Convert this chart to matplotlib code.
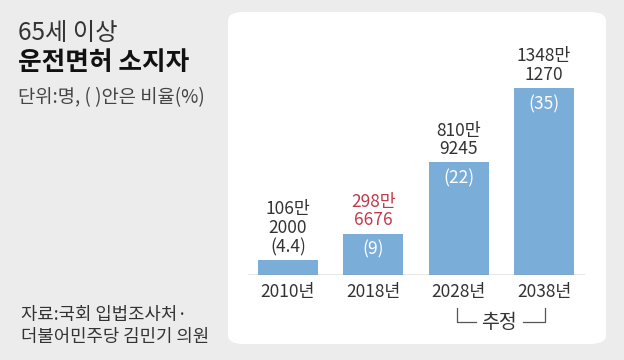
import matplotlib.pyplot as plt
from matplotlib.patches import FancyBboxPatch

plt.rcParams['font.family'] = ['Noto Sans CJK KR', 'DejaVu Sans']

years = ['2010년', '2018년', '2028년', '2038년']
holders = [1062000, 2986676, 8109245, 13481270]   # 명
top_lines = ['106만\n2000\n(4.4)', '298만\n6676', '810만\n9245', '1348만\n1270']
ratios = ['', '(9)', '(22)', '(35)']

bar_color = '#7badd9'
W, H = 624, 360

fig = plt.figure(figsize=(6.24, 3.6), dpi=100)
fig.patch.set_facecolor('#ececec')

# white rounded panel
panel = FancyBboxPatch((228 / W, 1 - 344 / H), 378 / W, 332 / H,
                       boxstyle='round,pad=0,rounding_size=0.025',
                       transform=fig.transFigure, facecolor='white',
                       edgecolor='none', zorder=-5)
fig.patches.append(panel)

ax = fig.add_axes([248 / W, 1 - 275 / H, 337 / W, 255 / H])
ax.set_zorder(2)
ax.set_facecolor('none')
x = range(len(years))
vals = [v / 10000 for v in holders]
ax.bar(x, vals, width=0.70, color=bar_color, zorder=2)
ax.set_xlim(-0.469, 3.48)
ax.set_ylim(0, 1838)
ax.axhline(0, color='#888888', lw=1.0, zorder=3)
for s in ax.spines.values():
    s.set_visible(False)
ax.set_yticks([])
ax.set_xticks(list(x))
ax.set_xticklabels(years, fontsize=12.5, color='#333333')
ax.tick_params(axis='x', length=0, pad=6)

for i, v in enumerate(vals):
    col = '#c23a4c' if i == 1 else '#333333'
    ax.annotate(top_lines[i], (i, v), xytext=(0, 3), textcoords='offset points',
                ha='center', va='bottom', fontsize=12.5, color=col,
                linespacing=1.05)
    if ratios[i]:
        ax.annotate(ratios[i], (i, v), xytext=(0, -5), textcoords='offset points',
                    ha='center', va='top', fontsize=12.5, color='white')

# 추정 bracket
by = 1 - 322 / H
ty = 1 - 308 / H
fig.add_artist(plt.Line2D([457 / W, 457 / W, 476 / W], [ty, by, by],
                          transform=fig.transFigure, color='#555555', lw=0.9))
fig.add_artist(plt.Line2D([523 / W, 545 / W, 545 / W], [by, by, ty],
                          transform=fig.transFigure, color='#555555', lw=0.9))
fig.text(499 / W, by, '추정', ha='center', va='center', fontsize=14, color='#333333')

# titles
fig.text(18 / W, 1 - 33 / H, '65세 이상', fontsize=17.5, color='#333333',
         va='center', fontweight='light')
fig.text(18 / W, 1 - 62 / H, '운전면허 소지자', fontsize=18.5, color='#111111',
         va='center', fontweight='bold')
fig.text(18 / W, 1 - 98 / H, '단위:명, ( )안은 비율(%)', fontsize=13.5,
         color='#444444', va='center')
fig.text(21 / W, 1 - 315 / H, '자료:국회 입법조사처·', fontsize=12.8,
         color='#333333', va='center')
fig.text(21 / W, 1 - 337 / H, '더불어민주당 김민기 의원', fontsize=12.8,
         color='#333333', va='center')

fig.savefig('out.png', dpi=100, facecolor=fig.get_facecolor())
